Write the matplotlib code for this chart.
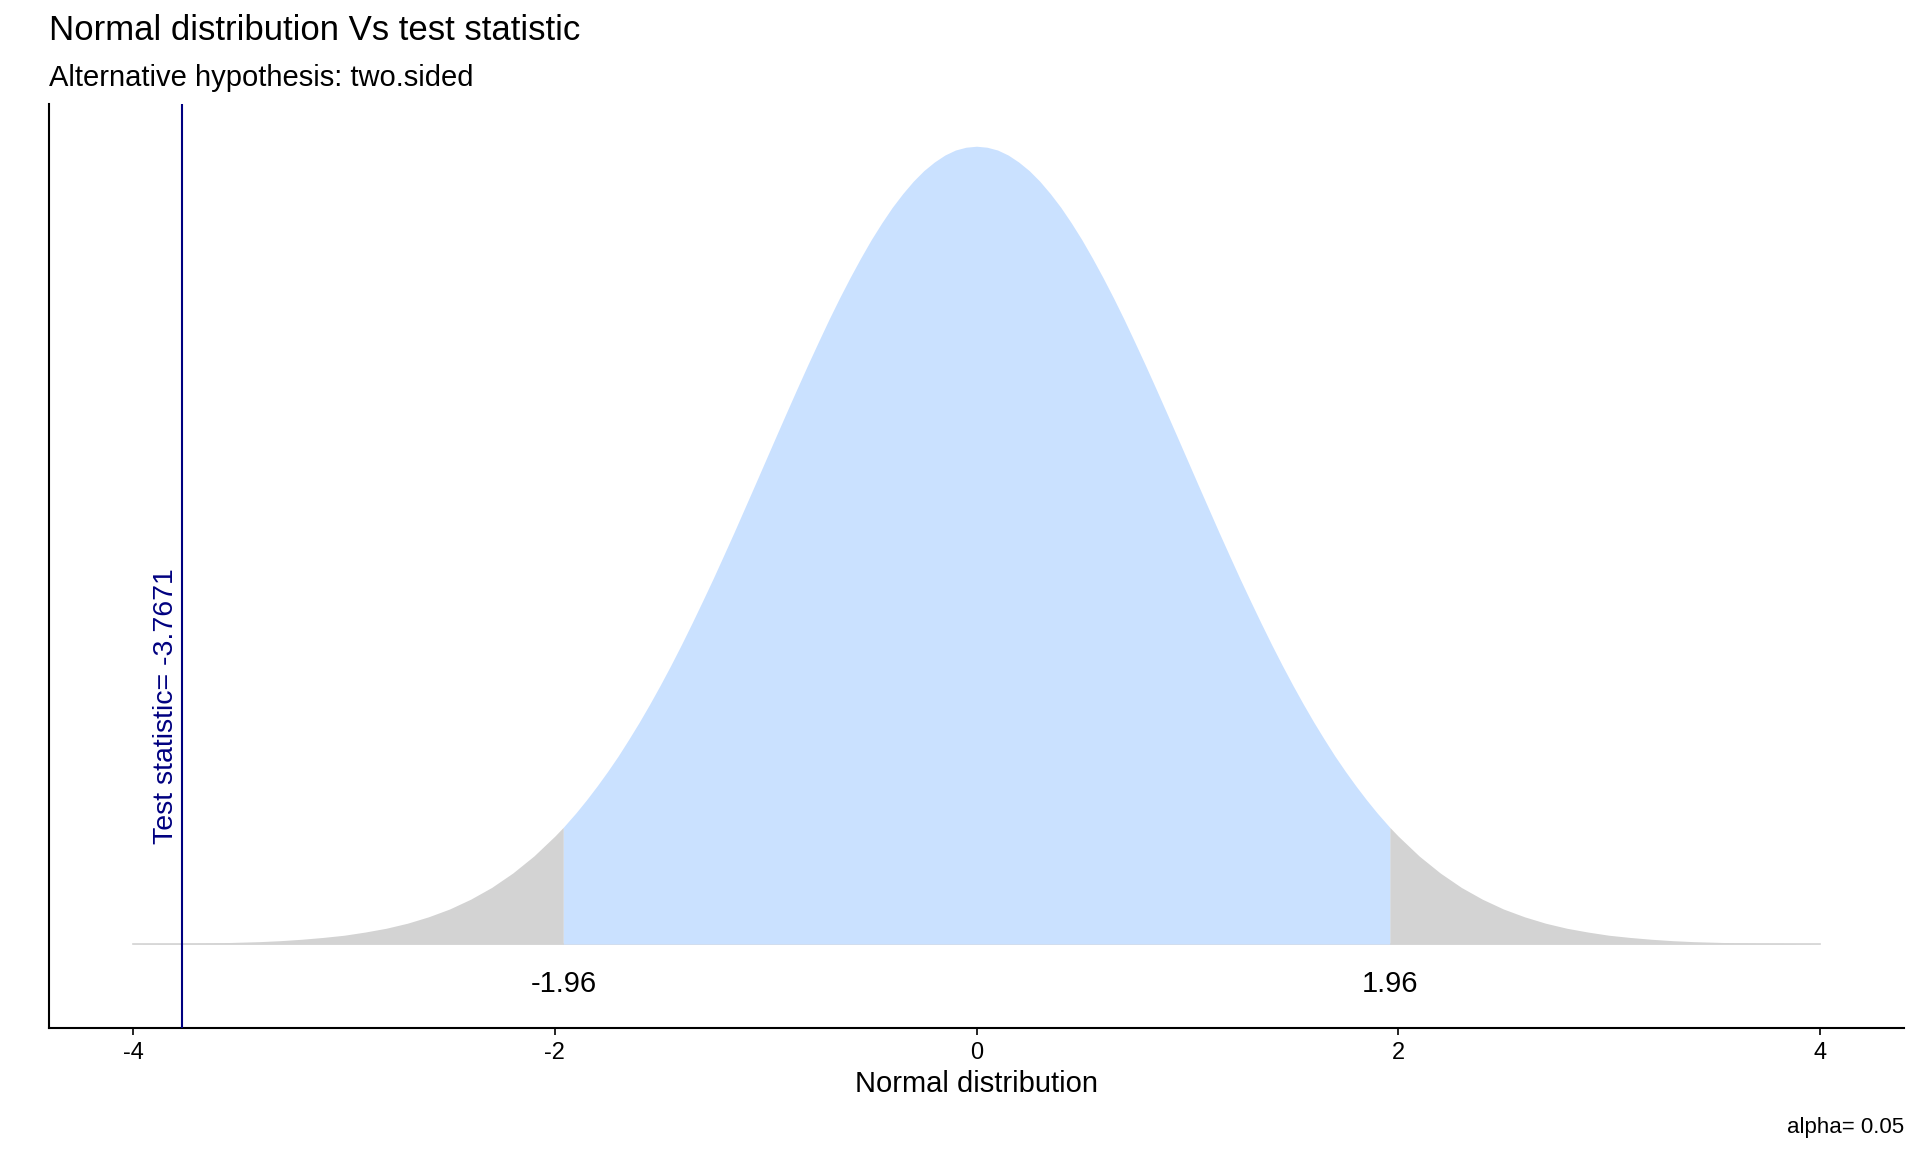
import numpy as np
import matplotlib
matplotlib.use('Agg')
import matplotlib.pyplot as plt

plt.rcParams['font.family'] = ['Liberation Sans', 'DejaVu Sans']

# standard normal density (right half, mirrored for the left)
z_half = [0.0, 0.05, 0.1, 0.15, 0.2, 0.25, 0.3, 0.35, 0.4, 0.45,
          0.5, 0.55, 0.6, 0.65, 0.7, 0.75, 0.8, 0.85, 0.9, 0.95,
          1.0, 1.05, 1.1, 1.15, 1.2, 1.25, 1.3, 1.35, 1.4, 1.45,
          1.5, 1.55, 1.6, 1.65, 1.7, 1.75, 1.8, 1.85, 1.9, 1.96,
          2.0, 2.1, 2.2, 2.3, 2.4, 2.5, 2.6, 2.7, 2.8, 2.9,
          3.0, 3.1, 3.2, 3.3, 3.4, 3.5, 3.6, 3.7, 3.8, 3.9, 4.0]
dens_half = [0.3989, 0.3984, 0.3970, 0.3945, 0.3910, 0.3867, 0.3814, 0.3752, 0.3683, 0.3605,
             0.3521, 0.3429, 0.3332, 0.3230, 0.3123, 0.3011, 0.2897, 0.2780, 0.2661, 0.2541,
             0.2420, 0.2299, 0.2179, 0.2059, 0.1942, 0.1826, 0.1714, 0.1604, 0.1497, 0.1394,
             0.1295, 0.1200, 0.1109, 0.1023, 0.0940, 0.0863, 0.0790, 0.0721, 0.0656, 0.0584,
             0.0540, 0.0440, 0.0355, 0.0283, 0.0224, 0.0175, 0.0136, 0.0104, 0.0079, 0.0060,
             0.0044, 0.0033, 0.0024, 0.0017, 0.0012, 0.0009, 0.0006, 0.0004, 0.0003, 0.0002, 0.0001]

crit_low = -1.96
crit_high = 1.96
test_stat = -3.7671
alpha = 0.05
xticks = [-4, -2, 0, 2, 4]

z = np.concatenate([-np.array(z_half[::-1]), np.array(z_half[1:])])
dens = np.concatenate([np.array(dens_half[::-1]), np.array(dens_half[1:])])

grey = '#D3D3D3'
blue = '#CAE1FF'

fig = plt.figure(figsize=(19.2, 11.52), dpi=100)
ax = fig.add_axes([0.0255, 0.1076, 0.9662, 0.8021])

lo = z <= crit_low
mid = (z >= crit_low) & (z <= crit_high)
hi = z >= crit_high
ax.plot([z[0], z[-1]], [0, 0], color=grey, lw=1.2, zorder=1)
ax.fill_between(z[lo], 0, dens[lo], color=grey, lw=0, zorder=2)
ax.fill_between(z[hi], 0, dens[hi], color=grey, lw=0, zorder=2)
ax.fill_between(z[mid], 0, dens[mid], color=blue, lw=0, zorder=2)

ax.axvline(test_stat, color='#000080', lw=1.5, zorder=3)
ax.annotate('Test statistic= ' + str(test_stat), xy=(test_stat, 0.119),
            xytext=(-2.5, 0), textcoords='offset points', rotation=90,
            ha='right', va='center', color='#000080', fontsize=20.5)

ax.text(crit_low, -0.02, str(crit_low), ha='center', va='center', fontsize=21)
ax.text(crit_high, -0.02, str(crit_high), ha='center', va='center', fontsize=21)

ax.set_xlim(-4.4, 4.4)
ax.set_ylim(-0.042, 0.42)
ax.set_xticks(xticks)
ax.set_xticklabels([str(t) for t in xticks])
ax.set_yticks([])
ax.tick_params(axis='x', length=5, width=1.2, pad=5, labelsize=17)
for s in ['top', 'right']:
    ax.spines[s].set_visible(False)
for s in ['left', 'bottom']:
    ax.spines[s].set_linewidth(1.5)

ax.set_xlabel('Normal distribution', fontsize=21)
ax.xaxis.set_label_coords(0.5, -0.045)

fig.text(0.0255, 0.9653, 'Normal distribution Vs test statistic', fontsize=25,
         ha='left', va='baseline')
fig.text(0.0255, 0.9253, 'Alternative hypothesis: two.sided', fontsize=21,
         ha='left', va='baseline')
fig.text(0.9917, 0.0165, 'alpha= ' + str(alpha), fontsize=16, ha='right', va='baseline')

fig.savefig('out.png', dpi=100)
